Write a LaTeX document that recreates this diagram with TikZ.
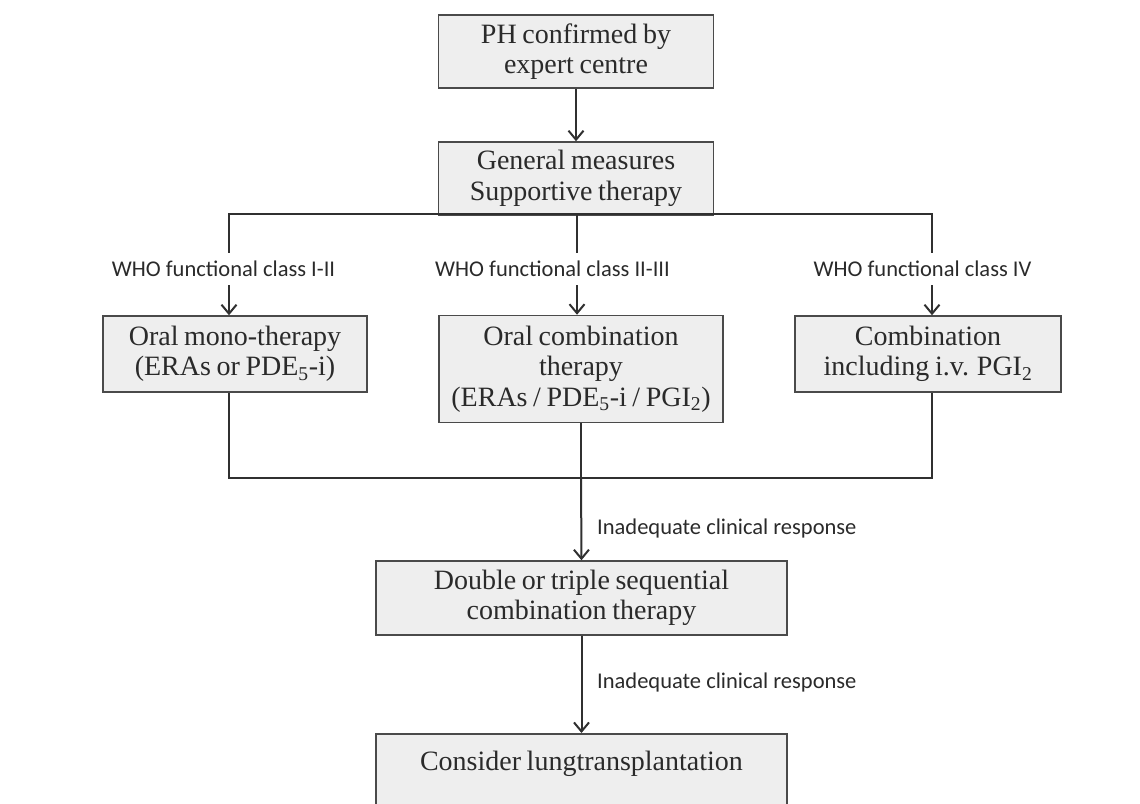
\documentclass[tikz,border=0pt]{standalone}
\usepackage{fontspec}
\setmainfont{Liberation Serif}
\newfontfamily\lblfont{Carlito}
\usetikzlibrary{arrows.meta}
\definecolor{boxfill}{HTML}{EEEEEE}
\definecolor{boxline}{HTML}{4A4A4A}
\definecolor{conn}{HTML}{303030}
\definecolor{txt}{HTML}{2A2A2A}
\newcommand\boxfnt{\fontsize{28}{30.5}\selectfont\spaceskip 0.2em plus 0.05em\relax}
\tikzset{
  flowbox/.style={draw=boxline, line width=1.5pt, fill=boxfill, text=txt,
    rectangle, inner sep=0pt, align=center, font=\boxfnt},
  lbl/.style={font=\lblfont\fontsize{22.5}{26}\selectfont, text=txt, inner sep=0pt},
  conline/.style={draw=conn, line width=2pt},
  arr/.style={conline, -{Straight Barb[length=9pt,width=15pt,line width=2pt]}}
}
\begin{document}
\begin{tikzpicture}[x=1pt,y=-1pt]
\useasboundingbox (0,0) rectangle (1140,803);
\clip (0,0) rectangle (1140,803);
% boxes
\node[flowbox, minimum width=275pt, minimum height=73pt] (b1) at (576,51.5)
  {PH confirmed by\\expert centre};
\node[flowbox, minimum width=275pt, minimum height=73pt] (b2) at (576,178.5)
  {General measures\\Supportive therapy};
\node[flowbox, minimum width=264pt, minimum height=76pt] (b3) at (235,354)
  {Oral mono-therapy\\(ERAs or PDE\textsubscript{5}-i)};
\node[flowbox, minimum width=284pt, minimum height=107pt] (b4) at (581,369)
  {Oral combination\\therapy\\(ERAs / PDE\textsubscript{5}-i / PGI\textsubscript{2})};
\node[flowbox, minimum width=266pt, minimum height=76pt] (b5) at (928,354)
  {Combination\\including i.v. PGI\textsubscript{2}};
\node[flowbox, minimum width=411pt, minimum height=74pt] (b6) at (581.5,598)
  {Double or triple sequential\\combination therapy};
\node[flowbox, minimum width=411pt, anchor=north, text height=37pt, text depth=80pt] (b7) at (581.5,733)
  {Consider lungtransplantation};
% class labels
\node[lbl, minimum height=32pt] (l1) at (223.5,269) {WHO functional class I-II};
\node[lbl, minimum height=32pt] (l2) at (552.5,269) {WHO functional class II-III};
\node[lbl, minimum height=32pt] (l3) at (922.5,269) {WHO functional class IV};
% connectors
\coordinate (t1) at (229,214);
\coordinate (t2) at (577,214);
\coordinate (t3) at (932,214);
\draw[arr] (b1.south) -- (b2.north);
\draw[conline] (t1 |- l1.north) -- (t1) -- (t3) -- (t3 |- l3.north);
\draw[conline] (t2) -- (t2 |- l2.north);
\draw[arr] (t1 |- l1.south) -- (t1 |- b3.north);
\draw[arr] (t2 |- l2.south) -- (t2 |- b4.north);
\draw[arr] (t3 |- l3.south) -- (t3 |- b5.north);
\coordinate (j) at (581,478);
\draw[conline] (t1 |- b3.south) |- (j) -| (t3 |- b5.south);
\draw[conline] (b4.south) -- (j);
\draw[arr] (j) -- (b6.north);
\draw[arr] (b6.south) -- (b7.north);
\node[lbl, anchor=west] (r1) at (597,528) {Inadequate clinical response};
\node[lbl, anchor=west] (r2) at (597,682) {Inadequate clinical response};
\end{tikzpicture}
\end{document}
